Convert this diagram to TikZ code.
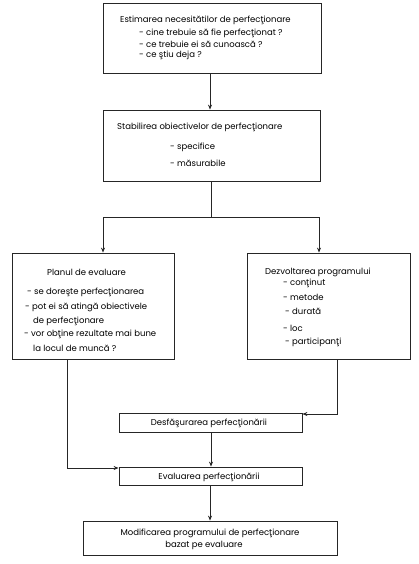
\documentclass[tikz,border=0pt]{standalone}
\usepackage{fontspec}
\setmainfont{Poppins}
\usetikzlibrary{arrows.meta}
\begin{document}
\begin{tikzpicture}[x=1pt,y=-1pt,
  box/.style={draw=black!85, line width=0.8pt, inner sep=0pt},
  txt/.style={inner sep=0pt, anchor=west, font=\fontsize{8.5}{9}\selectfont, text=black},
  ctxt/.style={inner sep=0pt, anchor=center, font=\fontsize{8.5}{9}\selectfont, text=black},
  conn/.style={draw=black!85, line width=0.8pt},
  arr/.style={conn, -{Stealth[length=5pt,width=4pt]}}]
\useasboundingbox (0,0) rectangle (418,564);
\fill[white] (0,0) rectangle (418,564);
% boxes
\node[box, minimum width=218pt, minimum height=70pt] (b1) at (212,38) {};
\node[box, minimum width=217pt, minimum height=71pt] (b2) at (211.5,145.5) {};
\node[box, minimum width=162pt, minimum height=106pt] (b3) at (93,306) {};
\node[box, minimum width=163pt, minimum height=106pt] (b4) at (328.5,306) {};
\node[box, minimum width=183pt, minimum height=19pt] (ds) at (210.5,422.5) {};
\node[box, minimum width=183pt, minimum height=18pt] (ev) at (210.5,476) {};
\node[box, minimum width=254pt, minimum height=34pt] (md) at (210,538) {};
% texts box 1
\node[txt] (t1a) at (120,20) {Estimarea necesitătilor de perfecţionare};
\node[txt] (t1b) at (139,33) {- cine trebuie să fie perfecţionat ?};
\node[txt] (t1c) at (139,44) {- ce trebuie ei să cunoască ?};
\node[txt] (t1d) at (139,55) {- ce ştiu deja ?};
% box 2
\node[txt] (t2a) at (117,127) {Stabilirea obiectivelor de perfecţionare};
\node[txt] (t2b) at (170,147) {- specifice};
\node[txt] (t2c) at (170,163) {- măsurabile};
% box 3
\node[txt] (t3a) at (47,272) {Planul de evaluare};
\node[txt] (t3b) at (27,292) {- se doreşte perfecţionarea};
\node[txt] (t3c) at (25,307) {- pot ei să atingă obiectivele};
\node[txt] (t3d) at (33,321) {de perfecţionare};
\node[txt] (t3e) at (24,334) {- vor obţine rezultate mai bune};
\node[txt] (t3f) at (33,348) {la locul de muncă ?};
% box 4
\node[txt] (t4a) at (265,272) {Dezvoltarea programului};
\node[txt] (t4b) at (283,283) {- conţinut};
\node[txt] (t4c) at (283,297) {- metode};
\node[txt] (t4d) at (285,311) {- durată};
\node[txt] (t4e) at (283,328) {- loc};
\node[txt] (t4f) at (285,342) {- participanţi};
% lower boxes
\node[ctxt] (t5) at (209,423) {Desfăşurarea perfecţionării};
\node[ctxt] (t6) at (209,477) {Evaluarea perfecţionării};
\node[ctxt] (t7a) at (210,533) {Modificarea programului de perfecţionare};
\node[ctxt] (t7b) at (204,545) {bazat pe evaluare};
% connectors
\coordinate (j) at (211,217);
\coordinate (jl) at (103,217);
\coordinate (jr) at (319,217);
\coordinate (c3) at (67,468);
\coordinate (c4) at (337,414);
\draw[arr] (b1.south -| 210,0) -- (b2.north -| 210,0);
\draw[conn] (b2.south -| j) -- (j);
\draw[arr] (j) -- (jl) -- (b3.north -| jl);
\draw[arr] (j) -- (jr) -- (b4.north -| jr);
\draw[arr] (b3.south -| c3) -- (c3) -- (c3 -| ev.west);
\draw[arr] (b4.south -| c4) -- (c4) -- (c4 -| ds.east);
\draw[arr] (ds.south -| 211,0) -- (ev.north -| 211,0);
\draw[arr] (ev.south -| 210,0) -- (md.north -| 210,0);
\end{tikzpicture}
\end{document}
